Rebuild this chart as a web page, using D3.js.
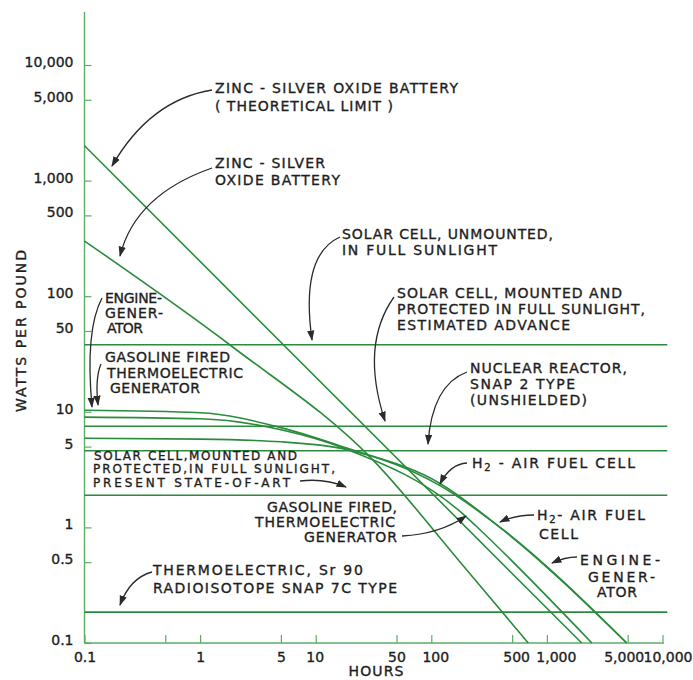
<!DOCTYPE html>
<html><head><meta charset="utf-8">
<script src="https://cdn.jsdelivr.net/npm/d3@7"></script>
<style>
html,body{margin:0;padding:0;background:#fff;}
svg{display:block;}
text{font-family:"DejaVu Sans",sans-serif;fill:#1e1e1e;stroke:#1e1e1e;stroke-width:0.35px;}
</style></head><body>
<svg id="chart" width="693" height="680"></svg>
<script>
// ---------------- data ----------------
const yTickValues = [0.1, 0.5, 1, 5, 10, 50, 100, 500, 1000, 5000, 10000];
const yTickLabels = ["0.1", "0.5", "1", "5", "10", "50", "100", "500", "1,000", "5,000", "10,000"];
const xTickValues = [0.1, 0.5, 1, 5, 10, 50, 100, 500, 1000, 5000, 10000];
const xTickLabels = ["0.1", "", "1", "5", "10", "50", "100", "500", "1,000", "5,000", "10,000"];

// curves: [hours, watts per pound]
const zincTheoretical = [[0.1, 2000], [2000, 0.1]];
const zincPractical = [[0.1, 300], [1.94, 36], [31.5, 3.8], [178, 0.5], [690, 0.1]];
const engineGenerator = [[0.1, 10.3], [1, 9.8], [5, 7.3], [18, 4.9], [119, 2.4], [418, 0.95], [4900, 0.1]];
const gasolineThermoelectric = [[0.1, 9.0], [1, 8.7], [5, 7.0], [18, 4.8], [196, 1.26], [265, 0.95], [2450, 0.1]];
const h2AirFuelCell = [[0.1, 5.9], [1, 5.8], [5, 5.5], [18, 4.75], [119, 2.3], [394, 1.0], [4900, 0.1]];

// flat lines (watts per pound, constant with time)
const flatNames = ["solarUnmounted", "solarAdvance", "nuclearSnap2", "solarPresent", "sr90Snap7C"];
const flatValues = [38, 7.5, 4.6, 1.9, 0.185];
const flatSpan = [0.1, 11000];

// ---------------- drawing ----------------
const svg = d3.select("#chart");
const x = d3.scaleLog().domain([0.1, 10000]).range([84.5, 662.5]);
const y = d3.scaleLog().domain([0.1, 10000]).range([643, 65]);

const axisColor = "#5aae66";
const lineColor = "#2b8b3c";

// y axis
const yAxis = d3.axisLeft(y).tickValues(yTickValues)
  .tickFormat((d, i) => yTickLabels[i]).tickSize(-7).tickPadding(11);
const gy = svg.append("g").attr("transform", "translate(84.5,0)").call(yAxis);
gy.select(".domain").remove();
gy.selectAll(".tick line").attr("stroke", axisColor).attr("stroke-width", 1.2);
gy.selectAll(".tick text").attr("font-size", 14).attr("dy", "0.1em")
  .attr("font-family", "DejaVu Sans").attr("fill", "#1e1e1e");
svg.append("line").attr("x1", 84.5).attr("x2", 84.5).attr("y1", 12).attr("y2", 643)
  .attr("stroke", axisColor).attr("stroke-width", 1.4);

// x axis
const xLabelShift = [0, 0, 0, 0, -1, 0, 4, 4, 9, -4, 5];
const xAxis = d3.axisBottom(x).tickValues(xTickValues)
  .tickFormat((d, i) => xTickLabels[i]).tickSize(-8).tickPadding(6);
const gx = svg.append("g").attr("transform", "translate(0,643)").call(xAxis);
gx.select(".domain").remove();
gx.selectAll(".tick line").attr("stroke", axisColor).attr("stroke-width", 1.2);
gx.selectAll(".tick text").attr("font-size", 14).attr("dy", "0.9em")
  .attr("dx", (d, i) => xLabelShift[i])
  .attr("font-family", "DejaVu Sans").attr("fill", "#1e1e1e");
svg.append("line").attr("x1", 84).attr("x2", 664).attr("y1", 643).attr("y2", 643)
  .attr("stroke", axisColor).attr("stroke-width", 1.4);

// flat lines
svg.append("g").selectAll("line").data(flatValues).join("line")
  .attr("x1", x(flatSpan[0])).attr("x2", x(flatSpan[1]))
  .attr("y1", d => y(d)).attr("y2", d => y(d))
  .attr("stroke", lineColor).attr("stroke-width", 1.6);

// curves
const lineGen = d3.line().x(d => x(d[0])).y(d => y(d[1])).curve(d3.curveMonotoneX);
const curves = [zincTheoretical, zincPractical, engineGenerator, gasolineThermoelectric, h2AirFuelCell];
svg.append("g").selectAll("path").data(curves).join("path")
  .attr("d", lineGen).attr("fill", "none")
  .attr("stroke", lineColor).attr("stroke-width", 1.6);

// arrow marker
svg.append("defs").append("marker").attr("id", "ah")
  .attr("viewBox", "0 0 10 10").attr("refX", 9).attr("refY", 5)
  .attr("markerWidth", 8).attr("markerHeight", 8).attr("orient", "auto")
  .append("path").attr("d", "M0,1.5 L10,5 L0,8.5 Z").attr("fill", "#2a2a2a");

// annotation layout (pixel positions)
const labels = [
  {x: 215, y: 93, t: "ZINC - SILVER OXIDE BATTERY", w: 243},
  {x: 215, y: 111, t: "( THEORETICAL LIMIT )", w: 178},
  {x: 215, y: 168, t: "ZINC - SILVER", w: 110},
  {x: 215, y: 185, t: "OXIDE BATTERY", w: 125},
  {x: 342, y: 239, t: "SOLAR CELL, UNMOUNTED,", w: 211},
  {x: 342, y: 255, t: "IN FULL SUNLIGHT", w: 155},
  {x: 397, y: 298, t: "SOLAR CELL, MOUNTED AND", w: 225},
  {x: 397, y: 314, t: "PROTECTED IN FULL SUNLIGHT,", w: 248},
  {x: 397, y: 330, t: "ESTIMATED ADVANCE", w: 173},
  {x: 470, y: 373, t: "NUCLEAR REACTOR,", w: 157},
  {x: 470, y: 389, t: "SNAP 2 TYPE", w: 105},
  {x: 470, y: 405, t: "(UNSHIELDED)", w: 117},
  {x: 105, y: 303, t: "ENGINE-", w: 57},
  {x: 105, y: 318, t: "GENER-", w: 58},
  {x: 107, y: 333, t: "ATOR", w: 36},
  {x: 105, y: 362, t: "GASOLINE FIRED", w: 125},
  {x: 107, y: 378, t: "THERMOELECTRIC", w: 136},
  {x: 110, y: 393, t: "GENERATOR", w: 90},
  {x: 94, y: 459.5, t: "SOLAR CELL,MOUNTED AND", w: 203, fs: 12},
  {x: 93, y: 473, t: "PROTECTED,IN FULL SUNLIGHT,", w: 242, fs: 12},
  {x: 93, y: 486.5, t: "PRESENT STATE-OF-ART", w: 197, fs: 12},
  {x: 267, y: 512, t: "GASOLINE FIRED,", w: 130},
  {x: 255, y: 527, t: "THERMOELECTRIC", w: 140},
  {x: 304, y: 542, t: "GENERATOR", w: 93},
  {x: 537, y: 520, t: "H2- AIR FUEL", w: 108, sub: true},
  {x: 539, y: 539, t: "CELL", w: 39},
  {x: 580, y: 565, t: "ENGINE-", w: 80},
  {x: 588, y: 582, t: "GENER-", w: 67},
  {x: 597, y: 597, t: "ATOR", w: 40},
  {x: 153, y: 575, t: "THERMOELECTRIC, Sr 90", w: 210},
  {x: 153, y: 593, t: "RADIOISOTOPE SNAP 7C TYPE", w: 244},
  {x: 472, y: 468, t: "H2 - AIR FUEL CELL", w: 163, sub: true}
];

const lg = svg.append("g");
labels.forEach(l => {
  const t = lg.append("text").attr("x", l.x).attr("y", l.y)
    .attr("font-size", l.fs || 14)
    .attr("textLength", l.w).attr("lengthAdjust", "spacing");
  if (l.sub) {
    const i = l.t.indexOf("2");
    t.append("tspan").text(l.t.slice(0, i));
    t.append("tspan").attr("font-size", 10).attr("dy", 3).text("2");
    t.append("tspan").attr("dy", -3).text(l.t.slice(i + 1));
  } else {
    t.text(l.t);
  }
});

const arrows = [
  [212, 90, 150, 100, 112, 166],
  [212, 168, 135, 195, 120, 256],
  [340, 237, 300, 255, 312, 340],
  [394, 297, 360, 345, 385, 421],
  [467, 372, 432, 385, 428, 444],
  [102, 298, 85, 330, 92, 407],
  [101, 364, 95, 378, 98, 405],
  [300, 481, 325, 478, 346, 487],
  [402, 536, 440, 534, 466, 516],
  [467, 463, 450, 464, 440, 484],
  [534, 515, 515, 515, 500, 522],
  [577, 557, 565, 557, 552, 563],
  [152, 572, 130, 578, 120, 605]
];
svg.append("g").selectAll("path").data(arrows).join("path")
  .attr("d", a => `M${a[0]},${a[1]} Q${a[2]},${a[3]} ${a[4]},${a[5]}`)
  .attr("fill", "none").attr("stroke", "#2a2a2a").attr("stroke-width", 1.3)
  .attr("marker-end", "url(#ah)");

// axis titles
svg.append("text").attr("transform", "translate(26,331) rotate(-90)")
  .attr("text-anchor", "middle").attr("font-size", 14)
  .attr("textLength", 162).attr("lengthAdjust", "spacing").text("WATTS PER POUND");
svg.append("text").attr("x", 376).attr("y", 676).attr("text-anchor", "middle")
  .attr("font-size", 14).attr("textLength", 55).attr("lengthAdjust", "spacing").text("HOURS");
</script></body></html>
